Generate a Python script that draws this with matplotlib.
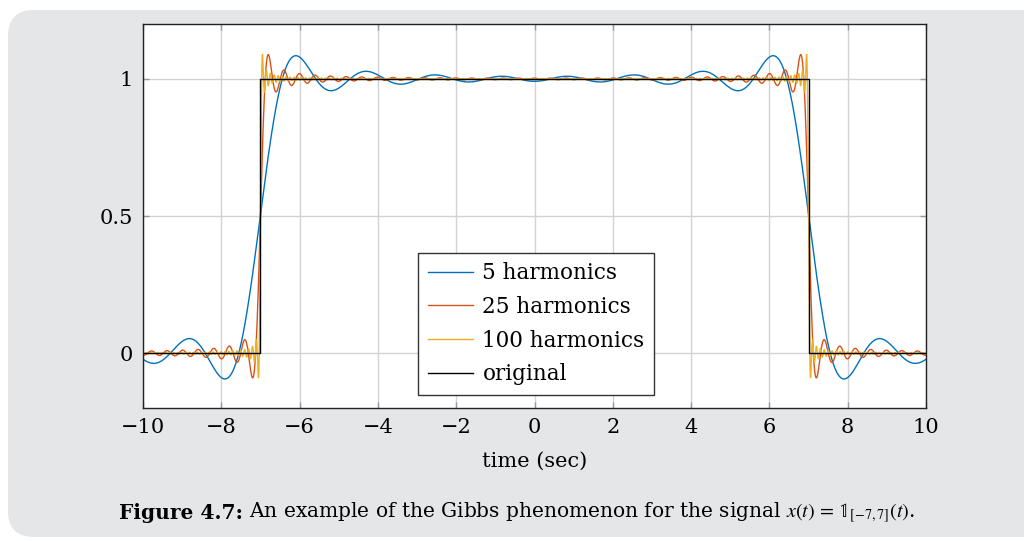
import numpy as np
import matplotlib
matplotlib.use("Agg")
import matplotlib.pyplot as plt
from matplotlib.patches import FancyBboxPatch
from matplotlib.transforms import IdentityTransform

# Rectangular pulse x(t) = 1 on [-7, 7]
pulse_edges = [-7.0, 7.0]
harmonics = [5, 25, 100]
series_labels = ["5 harmonics", "25 harmonics", "100 harmonics", "original"]
series_colors = ["#0072BD", "#D95319", "#EDB120", "#000000"]
f0 = 0.099  # spacing of the harmonic frequencies (Hz)

orig_t = [-10, -7, -7, 7, 7, 10]
orig_x = [0, 0, 1, 1, 0, 0]

xticks = [-10, -8, -6, -4, -2, 0, 2, 4, 6, 8, 10]
yticks = [0, 0.5, 1]
ytick_labels = ["0", "0.5", "1"]

# Sine integral table Si(u) = int_0^u sin(s)/s ds
u = np.linspace(0, 1200, 600001)
g = np.sinc(u / np.pi)
si_tab = np.concatenate([[0.0], np.cumsum(0.5 * (g[1:] + g[:-1]) * np.diff(u))])


def Si(x):
    return np.sign(x) * np.interp(np.abs(x), u, si_tab)


def band_limited(t, n):
    a = 2 * np.pi * (n + 0.5) * f0
    lo, hi = pulse_edges
    return (Si(a * (t - lo)) - Si(a * (t - hi))) / np.pi


t = np.linspace(-10, 10, 6001)

plt.rcParams["font.family"] = "DejaVu Serif"
fs = 15

fig = plt.figure(figsize=(10.24, 5.41), dpi=100)
fig.patch.set_facecolor("white")
bg = FancyBboxPatch((8, 4), 1100, 527, boxstyle="round,pad=0,rounding_size=26",
                    transform=IdentityTransform(), facecolor="#e5e6e8",
                    edgecolor="none", zorder=-10)
fig.patches.append(bg)

ax = fig.add_axes([143 / 1024, 133 / 541, 783 / 1024, 384 / 541])
ax.set_facecolor("white")

for n, lab, col in zip(harmonics, series_labels[:3], series_colors[:3]):
    ax.plot(t, band_limited(t, n), color=col, lw=1.0, label=lab)
ax.plot(orig_t, orig_x, color=series_colors[3], lw=1.0, label=series_labels[3])

ax.set_xlim(-10, 10)
ax.set_ylim(-0.2, 1.2)
ax.set_xticks(xticks)
ax.set_xticklabels([str(v).replace("-", "\u2212") for v in xticks])
ax.set_yticks(yticks)
ax.set_yticklabels(ytick_labels)
ax.grid(True, color="#d2d2d2", lw=1.0)
ax.set_axisbelow(True)
ax.tick_params(direction="in", length=4, width=1, color="#9a9a9a",
               top=True, right=True, labelsize=fs, pad=7)
for sp in ax.spines.values():
    sp.set_color("#222222")
    sp.set_linewidth(1.0)

ax.set_xlabel("time (sec)", fontsize=fs, labelpad=11)

leg = ax.legend(loc="lower center", bbox_to_anchor=(0.502, 0.034),
                borderaxespad=0, fontsize=15.5, frameon=True, fancybox=False,
                framealpha=1, edgecolor="#333333", handlelength=2.1,
                handletextpad=0.45, labelspacing=0.54, borderpad=0.45)
leg.get_frame().set_linewidth(1.0)

# Caption: bold label followed by regular text
renderer = fig.canvas.get_renderer()
cap_y = 1 - 513 / 541
t1 = fig.text(0, cap_y, "Figure 4.7:", fontsize=14.5, fontweight="bold",
              va="center", ha="left")
t2 = fig.text(0, cap_y,
              r" An example of the Gibbs phenomenon for the signal $x(t)\,=\,\mathbb{1}_{[-7,7]}(t)$.",
              fontsize=14.5, va="center", ha="left", math_fontfamily="stix")
w1 = t1.get_window_extent(renderer).width
w2 = t2.get_window_extent(renderer).width
x0 = 517 - (w1 + w2) / 2
t1.set_x(x0 / 1024)
t2.set_x((x0 + w1) / 1024)

fig.savefig("out.png", dpi=100, facecolor=fig.get_facecolor())
